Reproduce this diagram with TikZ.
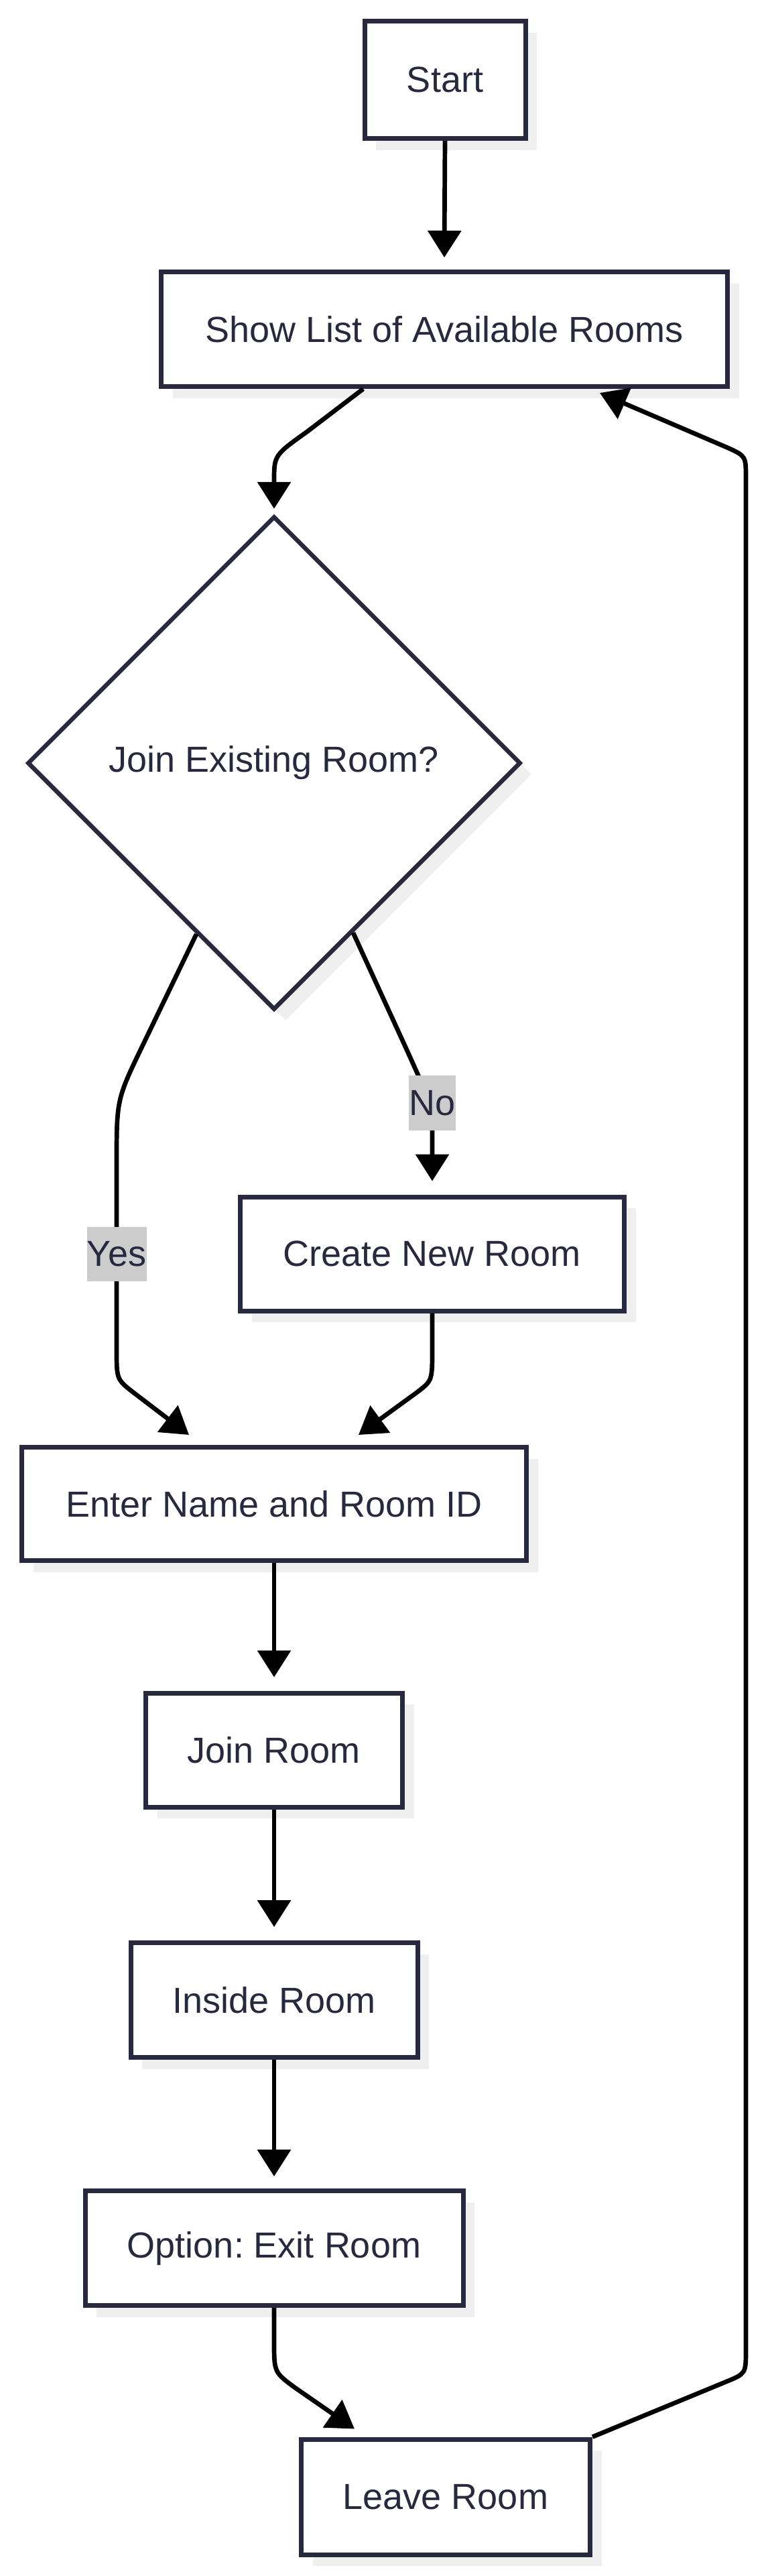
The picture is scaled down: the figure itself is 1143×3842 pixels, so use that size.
\documentclass[tikz,border=0pt]{standalone}
\usepackage{fontspec}
\setmainfont{Liberation Sans}
\usetikzlibrary{shapes.geometric,arrows.meta,calc,shadows}
\definecolor{ink}{RGB}{40,40,62}
\definecolor{shade}{RGB}{239,239,239}
\definecolor{lblbg}{RGB}{204,204,204}
\frenchspacing
\begin{document}
\begin{tikzpicture}[x=1pt,y=-1pt,
  box/.style={draw=ink, line width=7pt, fill=white, inner sep=0pt, text=ink,
    font=\fontsize{54}{64}\selectfont,
    drop shadow={shadow xshift=17pt, shadow yshift=-17pt, fill=shade, opacity=1}},
  decision/.style={box, diamond, aspect=1, line width=6.5pt},
  edge/.style={draw=black, line width=6.7pt, line join=round,
    -{Triangle[length=40pt,width=49pt]}},
  lbl/.style={fill=lblbg, inner sep=0pt, text=ink, font=\fontsize{54}{64}\selectfont}]
\useasboundingbox (0,0) rectangle (1143,3842);

% nodes
\node[box, minimum width=240pt, minimum height=175pt] (start) at (664,119) {Start};
\node[box, minimum width=845pt, minimum height=171pt] (show) at (663,491) {Show List of Available Rooms};
\node[decision, minimum width=736pt, minimum height=736pt] (dec) at (409,1138) {Join Existing Room?};
\node[box, minimum width=573pt, minimum height=170pt] (create) at (645,1870) {Create New Room};
\node[box, minimum width=753pt, minimum height=169pt] (enter) at (409,2243) {Enter Name and Room ID};
\node[box, minimum width=383pt, minimum height=170pt] (join) at (409,2610) {Join Room};
\node[box, minimum width=428pt, minimum height=171pt] (inside) at (409,2983) {Inside Room};
\node[box, minimum width=564pt, minimum height=171pt] (option) at (409,3353) {Option: Exit Room};
\node[box, minimum width=431pt, minimum height=172pt] (leave) at (665,3724) {Leave Room};

% connectors
\draw[edge] (start.south) -- ($(show.north)+(0,-18)$);
\draw[edge] ($(show.south)+(-121,0)$) -- (458,644) .. controls (409,679) .. (409,718)
  -- ($(dec.north)+(0,-8)$);
\draw[edge] ($(dec.south)+(118,-118)$) -- (608,1568) .. controls (645,1650) .. (645,1690)
  -- ($(create.north)+(0,-20)$);
\draw[edge] ($(dec.south)+(-116,-116)$) -- (212,1561) .. controls (174,1640) .. (174,1737)
  -- (174,2012) .. controls (174,2057) .. (198,2076) -- ($(enter.north)+(-127,-15)$);
\draw[edge] (create.south) -- (645,2012) .. controls (645,2059) .. (623,2076)
  -- ($(enter.north)+(126,-15)$);
\draw[edge] (enter.south) -- ($(join.north)+(0,-20)$);
\draw[edge] (join.south) -- ($(inside.north)+(0,-20)$);
\draw[edge] (inside.south) -- ($(option.north)+(0,-18)$);
\draw[edge] (option.south) -- (409,3492) .. controls (409,3538) .. (440,3561)
  -- ($(leave.north)+(-136,-12)$);
\draw[edge] (leave.north east) -- (1084,3552) .. controls (1113,3540) .. (1113,3504)
  -- (1113,713) .. controls (1113,680) .. (1084,667) -- ($(show.south)+(232,6)$);

% edge labels
\node[lbl, minimum width=89pt, minimum height=81pt] (yes) at (174,1870) {Yes};
\node[lbl, minimum width=70pt, minimum height=82pt] (no) at (645,1645) {No};
\end{tikzpicture}
\end{document}
